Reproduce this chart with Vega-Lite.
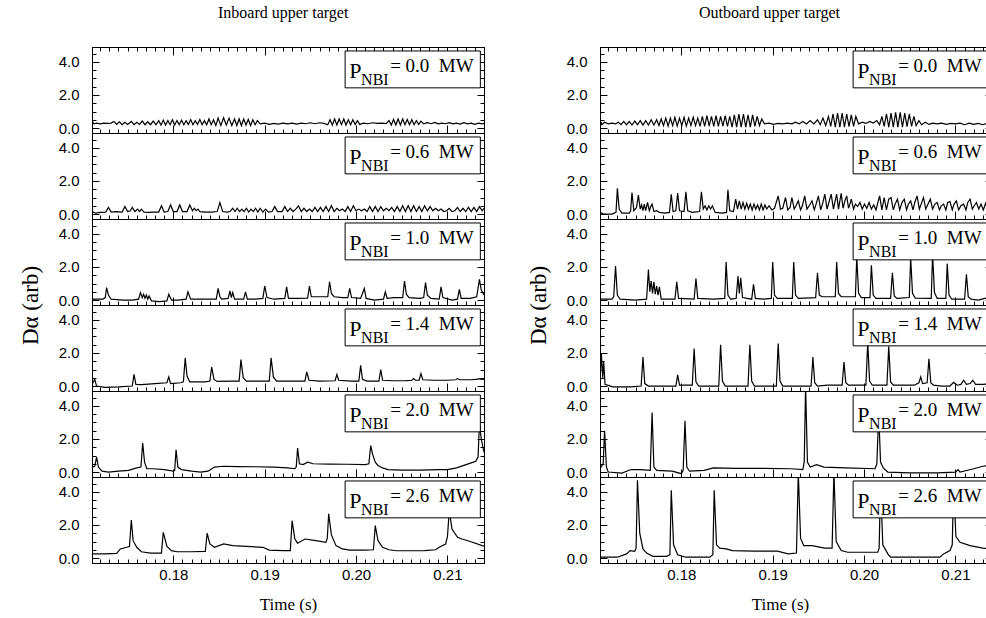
{
"$schema":"https://vega.github.io/schema/vega-lite/v6.json",
"padding":{"left":18,"top":5,"right":0,"bottom":5},
"background":"white",
"config":{
 "view":{"stroke":"black","strokeWidth":1},
 "axis":{"domainColor":"black","tickColor":"black","labelColor":"black","labelFont":"Liberation Sans","labelFontSize":15,"grid":false,"labelOverlap":false,"labelFlush":false,"domainWidth":1,"tickWidth":1},
 "title":{"font":"Liberation Serif","fontSize":16,"fontWeight":"normal","color":"black"}
},
"datasets":{
"L0":[{"t":0.1711,"v":0.45},{"t":0.1713,"v":0.25},{"t":0.1716,"v":0.3},{"t":0.172,"v":0.25},{"t":0.1724,"v":0.3},{"t":0.1728,"v":0.28},{"t":0.1732,"v":0.3},{"t":0.1735,"v":0.4},{"t":0.1738,"v":0.22},{"t":0.1741,"v":0.38},{"t":0.1744,"v":0.2},{"t":0.1747,"v":0.35},{"t":0.175,"v":0.22},{"t":0.1754,"v":0.4},{"t":0.1757,"v":0.2},{"t":0.176,"v":0.35},{"t":0.1763,"v":0.22},{"t":0.1766,"v":0.42},{"t":0.1769,"v":0.2},{"t":0.1772,"v":0.38},{"t":0.1775,"v":0.2},{"t":0.1778,"v":0.42},{"t":0.1781,"v":0.2},{"t":0.1784,"v":0.45},{"t":0.17865,"v":0.18},{"t":0.1789,"v":0.48},{"t":0.17915,"v":0.18},{"t":0.1794,"v":0.45},{"t":0.17965,"v":0.2},{"t":0.1799,"v":0.5},{"t":0.18015,"v":0.18},{"t":0.1804,"v":0.45},{"t":0.18065,"v":0.2},{"t":0.1809,"v":0.48},{"t":0.18115,"v":0.2},{"t":0.1814,"v":0.45},{"t":0.18165,"v":0.22},{"t":0.1819,"v":0.5},{"t":0.18215,"v":0.2},{"t":0.1824,"v":0.45},{"t":0.18265,"v":0.22},{"t":0.1829,"v":0.52},{"t":0.18315,"v":0.2},{"t":0.1834,"v":0.45},{"t":0.18365,"v":0.2},{"t":0.1839,"v":0.55},{"t":0.18415,"v":0.2},{"t":0.1844,"v":0.5},{"t":0.18465,"v":0.15},{"t":0.1849,"v":0.6},{"t":0.1852,"v":0.15},{"t":0.1855,"v":0.62},{"t":0.1858,"v":0.18},{"t":0.1861,"v":0.6},{"t":0.1864,"v":0.15},{"t":0.1867,"v":0.55},{"t":0.18695,"v":0.15},{"t":0.1872,"v":0.55},{"t":0.18745,"v":0.15},{"t":0.1877,"v":0.55},{"t":0.18795,"v":0.18},{"t":0.1882,"v":0.52},{"t":0.18845,"v":0.15},{"t":0.1887,"v":0.5},{"t":0.18895,"v":0.2},{"t":0.1892,"v":0.45},{"t":0.1895,"v":0.25},{"t":0.19,"v":0.3},{"t":0.1905,"v":0.22},{"t":0.191,"v":0.28},{"t":0.1915,"v":0.24},{"t":0.192,"v":0.3},{"t":0.1925,"v":0.25},{"t":0.193,"v":0.3},{"t":0.1935,"v":0.24},{"t":0.194,"v":0.3},{"t":0.1945,"v":0.26},{"t":0.195,"v":0.32},{"t":0.1955,"v":0.26},{"t":0.196,"v":0.32},{"t":0.1965,"v":0.28},{"t":0.1969,"v":0.2},{"t":0.19715,"v":0.5},{"t":0.1974,"v":0.18},{"t":0.19765,"v":0.55},{"t":0.1979,"v":0.18},{"t":0.19815,"v":0.55},{"t":0.1984,"v":0.2},{"t":0.19865,"v":0.55},{"t":0.1989,"v":0.18},{"t":0.19915,"v":0.5},{"t":0.1994,"v":0.2},{"t":0.19965,"v":0.5},{"t":0.1999,"v":0.22},{"t":0.20015,"v":0.45},{"t":0.2004,"v":0.22},{"t":0.2008,"v":0.3},{"t":0.2013,"v":0.26},{"t":0.2018,"v":0.32},{"t":0.2023,"v":0.28},{"t":0.2028,"v":0.3},{"t":0.2033,"v":0.27},{"t":0.2036,"v":0.45},{"t":0.20385,"v":0.18},{"t":0.2041,"v":0.52},{"t":0.20435,"v":0.18},{"t":0.2046,"v":0.55},{"t":0.20485,"v":0.18},{"t":0.2051,"v":0.55},{"t":0.20535,"v":0.2},{"t":0.2056,"v":0.52},{"t":0.20585,"v":0.2},{"t":0.2061,"v":0.5},{"t":0.20635,"v":0.2},{"t":0.2066,"v":0.45},{"t":0.20685,"v":0.22},{"t":0.2071,"v":0.42},{"t":0.2074,"v":0.25},{"t":0.2078,"v":0.32},{"t":0.2082,"v":0.26},{"t":0.2086,"v":0.34},{"t":0.209,"v":0.25},{"t":0.2094,"v":0.3},{"t":0.2098,"v":0.26},{"t":0.2102,"v":0.33},{"t":0.2106,"v":0.25},{"t":0.211,"v":0.3},{"t":0.2114,"v":0.24},{"t":0.2118,"v":0.32},{"t":0.2122,"v":0.25},{"t":0.2126,"v":0.3},{"t":0.213,"v":0.22},{"t":0.2134,"v":0.3},{"t":0.2138,"v":0.25},{"t":0.214,"v":0.28}],
"L06":[{"t":0.1711,"v":0.15},{"t":0.1715,"v":0.05},{"t":0.172,"v":0.1},{"t":0.1726,"v":0.12},{"t":0.1729,"v":0.4},{"t":0.1732,"v":0.12},{"t":0.1738,"v":0.15},{"t":0.1744,"v":0.12},{"t":0.1747,"v":0.45},{"t":0.175,"v":0.15},{"t":0.1753,"v":0.2},{"t":0.1755,"v":0.4},{"t":0.1758,"v":0.15},{"t":0.1761,"v":0.3},{"t":0.1763,"v":0.15},{"t":0.1765,"v":0.3},{"t":0.1768,"v":0.12},{"t":0.1773,"v":0.1},{"t":0.1778,"v":0.12},{"t":0.1784,"v":0.12},{"t":0.1787,"v":0.5},{"t":0.179,"v":0.12},{"t":0.1794,"v":0.15},{"t":0.1797,"v":0.55},{"t":0.18,"v":0.15},{"t":0.1804,"v":0.15},{"t":0.1807,"v":0.55},{"t":0.181,"v":0.15},{"t":0.1815,"v":0.15},{"t":0.1818,"v":0.55},{"t":0.1821,"v":0.2},{"t":0.1823,"v":0.35},{"t":0.1825,"v":0.2},{"t":0.1827,"v":0.3},{"t":0.1829,"v":0.15},{"t":0.1835,"v":0.12},{"t":0.1842,"v":0.12},{"t":0.1848,"v":0.15},{"t":0.1851,"v":0.7},{"t":0.1854,"v":0.15},{"t":0.1859,"v":0.12},{"t":0.1862,"v":0.15},{"t":0.1865,"v":0.35},{"t":0.18675,"v":0.15},{"t":0.187,"v":0.35},{"t":0.18725,"v":0.15},{"t":0.1875,"v":0.3},{"t":0.18775,"v":0.15},{"t":0.188,"v":0.35},{"t":0.18825,"v":0.12},{"t":0.1885,"v":0.3},{"t":0.18875,"v":0.15},{"t":0.189,"v":0.35},{"t":0.18925,"v":0.12},{"t":0.1895,"v":0.35},{"t":0.1898,"v":0.12},{"t":0.1901,"v":0.3},{"t":0.1904,"v":0.12},{"t":0.1908,"v":0.15},{"t":0.1911,"v":0.45},{"t":0.1914,"v":0.15},{"t":0.1919,"v":0.15},{"t":0.1922,"v":0.45},{"t":0.1925,"v":0.15},{"t":0.1928,"v":0.35},{"t":0.1931,"v":0.15},{"t":0.1934,"v":0.3},{"t":0.1937,"v":0.5},{"t":0.194,"v":0.15},{"t":0.1943,"v":0.35},{"t":0.1946,"v":0.15},{"t":0.1949,"v":0.3},{"t":0.1952,"v":0.15},{"t":0.1955,"v":0.4},{"t":0.1958,"v":0.15},{"t":0.1961,"v":0.4},{"t":0.1964,"v":0.15},{"t":0.1967,"v":0.45},{"t":0.197,"v":0.15},{"t":0.1973,"v":0.5},{"t":0.1976,"v":0.15},{"t":0.1979,"v":0.35},{"t":0.1982,"v":0.2},{"t":0.1985,"v":0.3},{"t":0.1988,"v":0.15},{"t":0.1991,"v":0.45},{"t":0.1994,"v":0.15},{"t":0.1997,"v":0.5},{"t":0.2,"v":0.2},{"t":0.2003,"v":0.3},{"t":0.2006,"v":0.2},{"t":0.2009,"v":0.3},{"t":0.2012,"v":0.15},{"t":0.2015,"v":0.45},{"t":0.2018,"v":0.15},{"t":0.2021,"v":0.45},{"t":0.2024,"v":0.15},{"t":0.2027,"v":0.45},{"t":0.203,"v":0.2},{"t":0.2033,"v":0.35},{"t":0.2036,"v":0.2},{"t":0.2039,"v":0.4},{"t":0.2042,"v":0.15},{"t":0.2045,"v":0.45},{"t":0.2048,"v":0.15},{"t":0.2051,"v":0.5},{"t":0.2054,"v":0.15},{"t":0.2057,"v":0.5},{"t":0.206,"v":0.15},{"t":0.2063,"v":0.5},{"t":0.2066,"v":0.15},{"t":0.2069,"v":0.45},{"t":0.2072,"v":0.15},{"t":0.2075,"v":0.5},{"t":0.2078,"v":0.2},{"t":0.2081,"v":0.45},{"t":0.2084,"v":0.2},{"t":0.2087,"v":0.35},{"t":0.209,"v":0.2},{"t":0.2093,"v":0.3},{"t":0.2096,"v":0.15},{"t":0.2099,"v":0.2},{"t":0.2102,"v":0.35},{"t":0.2105,"v":0.15},{"t":0.2108,"v":0.2},{"t":0.2111,"v":0.4},{"t":0.2114,"v":0.15},{"t":0.2117,"v":0.35},{"t":0.212,"v":0.15},{"t":0.2123,"v":0.4},{"t":0.2126,"v":0.15},{"t":0.2129,"v":0.4},{"t":0.2132,"v":0.15},{"t":0.2135,"v":0.45},{"t":0.2138,"v":0.2},{"t":0.214,"v":0.35}],
"L10":[{"t":0.1711,"v":0.05},{"t":0.1723,"v":0.05},{"t":0.17255,"v":0.15},{"t":0.1727,"v":0.75},{"t":0.1729,"v":0.3},{"t":0.1732,"v":0.05},{"t":0.1745,"v":0.0},{"t":0.1755,"v":0.0},{"t":0.1762,"v":0.05},{"t":0.1764,"v":0.45},{"t":0.1766,"v":0.15},{"t":0.17675,"v":0.35},{"t":0.1769,"v":0.1},{"t":0.17705,"v":0.3},{"t":0.1772,"v":0.05},{"t":0.17735,"v":0.25},{"t":0.1776,"v":-0.05},{"t":0.1785,"v":-0.1},{"t":0.1793,"v":-0.05},{"t":0.1795,"v":0.35},{"t":0.1798,"v":0.0},{"t":0.1805,"v":0.0},{"t":0.1814,"v":0.05},{"t":0.1816,"v":0.5},{"t":0.1819,"v":0.05},{"t":0.183,"v":0.05},{"t":0.1847,"v":0.05},{"t":0.1849,"v":0.7},{"t":0.1851,"v":0.2},{"t":0.1853,"v":0.05},{"t":0.186,"v":0.1},{"t":0.1862,"v":0.55},{"t":0.18635,"v":0.15},{"t":0.1865,"v":0.45},{"t":0.1867,"v":0.05},{"t":0.1877,"v":0.05},{"t":0.1879,"v":0.5},{"t":0.1881,"v":0.05},{"t":0.189,"v":0.05},{"t":0.1898,"v":0.1},{"t":0.19,"v":0.85},{"t":0.19025,"v":0.15},{"t":0.191,"v":0.05},{"t":0.1922,"v":0.1},{"t":0.1924,"v":0.8},{"t":0.1926,"v":0.1},{"t":0.1935,"v":0.1},{"t":0.1947,"v":0.12},{"t":0.1949,"v":0.85},{"t":0.1951,"v":0.2},{"t":0.1955,"v":0.2},{"t":0.1969,"v":0.2},{"t":0.1971,"v":1.1},{"t":0.1973,"v":0.4},{"t":0.1976,"v":0.2},{"t":0.1985,"v":0.15},{"t":0.1991,"v":0.15},{"t":0.1993,"v":0.7},{"t":0.1995,"v":0.15},{"t":0.2005,"v":0.1},{"t":0.2009,"v":0.7},{"t":0.2011,"v":0.1},{"t":0.202,"v":0.0},{"t":0.203,"v":0.05},{"t":0.2032,"v":0.5},{"t":0.2034,"v":0.1},{"t":0.2042,"v":0.15},{"t":0.2051,"v":0.15},{"t":0.2053,"v":1.15},{"t":0.2055,"v":0.35},{"t":0.2058,"v":0.15},{"t":0.207,"v":0.1},{"t":0.2074,"v":0.15},{"t":0.2076,"v":1.05},{"t":0.2078,"v":0.3},{"t":0.2082,"v":0.1},{"t":0.2091,"v":0.05},{"t":0.2093,"v":0.8},{"t":0.2095,"v":0.15},{"t":0.2105,"v":0.0},{"t":0.2111,"v":0.05},{"t":0.2113,"v":0.65},{"t":0.2115,"v":0.1},{"t":0.2125,"v":0.1},{"t":0.2132,"v":0.2},{"t":0.2135,"v":1.25},{"t":0.2137,"v":0.6},{"t":0.214,"v":0.3}],
"L14":[{"t":0.1711,"v":0.1},{"t":0.1714,"v":0.4},{"t":0.1716,"v":0.0},{"t":0.1725,"v":-0.08},{"t":0.174,"v":-0.05},{"t":0.1755,"v":0.0},{"t":0.1757,"v":0.7},{"t":0.1759,"v":0.1},{"t":0.1765,"v":0.08},{"t":0.178,"v":0.15},{"t":0.1793,"v":0.2},{"t":0.1795,"v":0.55},{"t":0.1797,"v":0.15},{"t":0.1808,"v":0.2},{"t":0.1811,"v":0.25},{"t":0.1813,"v":1.7},{"t":0.1815,"v":0.6},{"t":0.1818,"v":0.25},{"t":0.1835,"v":0.25},{"t":0.184,"v":0.3},{"t":0.1842,"v":1.15},{"t":0.18445,"v":0.4},{"t":0.1848,"v":0.28},{"t":0.1865,"v":0.3},{"t":0.1872,"v":0.3},{"t":0.1874,"v":1.6},{"t":0.18765,"v":0.5},{"t":0.188,"v":0.3},{"t":0.19,"v":0.3},{"t":0.1905,"v":0.3},{"t":0.1907,"v":1.7},{"t":0.19095,"v":0.55},{"t":0.1913,"v":0.3},{"t":0.193,"v":0.3},{"t":0.1944,"v":0.3},{"t":0.1946,"v":0.85},{"t":0.19485,"v":0.35},{"t":0.196,"v":0.3},{"t":0.1977,"v":0.32},{"t":0.1979,"v":0.7},{"t":0.1981,"v":0.35},{"t":0.1995,"v":0.3},{"t":0.2003,"v":0.3},{"t":0.2005,"v":1.25},{"t":0.2007,"v":0.4},{"t":0.2012,"v":0.3},{"t":0.2025,"v":0.3},{"t":0.2027,"v":1.0},{"t":0.2029,"v":0.35},{"t":0.204,"v":0.32},{"t":0.2055,"v":0.33},{"t":0.2061,"v":0.35},{"t":0.2063,"v":0.45},{"t":0.2065,"v":0.35},{"t":0.2069,"v":0.35},{"t":0.2071,"v":0.75},{"t":0.2073,"v":0.38},{"t":0.2085,"v":0.35},{"t":0.21,"v":0.35},{"t":0.2109,"v":0.38},{"t":0.2111,"v":0.45},{"t":0.2113,"v":0.38},{"t":0.2125,"v":0.38},{"t":0.2132,"v":0.4},{"t":0.2134,"v":0.45},{"t":0.2137,"v":0.4},{"t":0.214,"v":0.42}],
"L20":[{"t":0.1711,"v":0.3},{"t":0.1714,"v":0.35},{"t":0.1716,"v":0.9},{"t":0.1718,"v":0.3},{"t":0.1722,"v":0.05},{"t":0.1729,"v":0.0},{"t":0.174,"v":0.05},{"t":0.1751,"v":0.1},{"t":0.176,"v":0.25},{"t":0.17645,"v":0.3},{"t":0.17665,"v":1.75},{"t":0.17685,"v":0.6},{"t":0.1771,"v":0.2},{"t":0.1778,"v":0.2},{"t":0.179,"v":0.15},{"t":0.18,"v":0.05},{"t":0.18015,"v":0.1},{"t":0.1803,"v":1.35},{"t":0.1805,"v":0.3},{"t":0.1809,"v":0.15},{"t":0.182,"v":0.05},{"t":0.183,"v":0.0},{"t":0.1838,"v":0.05},{"t":0.1845,"v":0.3},{"t":0.1855,"v":0.35},{"t":0.187,"v":0.33},{"t":0.189,"v":0.32},{"t":0.191,"v":0.3},{"t":0.1925,"v":0.25},{"t":0.1933,"v":0.2},{"t":0.19345,"v":0.3},{"t":0.1936,"v":1.45},{"t":0.1938,"v":0.5},{"t":0.1942,"v":0.45},{"t":0.1947,"v":0.6},{"t":0.1953,"v":0.5},{"t":0.197,"v":0.48},{"t":0.199,"v":0.47},{"t":0.201,"v":0.45},{"t":0.2014,"v":0.5},{"t":0.2016,"v":1.6},{"t":0.2018,"v":1.1},{"t":0.2021,"v":0.6},{"t":0.2024,"v":0.4},{"t":0.2029,"v":0.25},{"t":0.2035,"v":0.15},{"t":0.205,"v":0.12},{"t":0.207,"v":0.12},{"t":0.209,"v":0.15},{"t":0.21,"v":0.15},{"t":0.211,"v":0.25},{"t":0.2118,"v":0.4},{"t":0.2126,"v":0.55},{"t":0.2131,"v":0.65},{"t":0.21335,"v":0.9},{"t":0.2135,"v":2.9},{"t":0.2137,"v":2.0},{"t":0.214,"v":1.2}],
"L26":[{"t":0.1711,"v":0.25},{"t":0.1725,"v":0.25},{"t":0.1738,"v":0.28},{"t":0.1742,"v":0.55},{"t":0.1749,"v":0.65},{"t":0.1752,"v":0.7},{"t":0.1754,"v":2.3},{"t":0.1756,"v":1.05},{"t":0.176,"v":0.65},{"t":0.1765,"v":0.38},{"t":0.1775,"v":0.3},{"t":0.1787,"v":0.3},{"t":0.1789,"v":1.55},{"t":0.1793,"v":0.7},{"t":0.1798,"v":0.45},{"t":0.1804,"v":0.38},{"t":0.182,"v":0.38},{"t":0.1835,"v":0.4},{"t":0.1837,"v":1.5},{"t":0.184,"v":0.85},{"t":0.1845,"v":0.65},{"t":0.1855,"v":0.85},{"t":0.1865,"v":0.75},{"t":0.188,"v":0.7},{"t":0.1898,"v":0.65},{"t":0.1905,"v":0.48},{"t":0.192,"v":0.45},{"t":0.1928,"v":0.45},{"t":0.193,"v":2.26},{"t":0.1933,"v":1.15},{"t":0.1936,"v":0.9},{"t":0.1944,"v":1.15},{"t":0.1956,"v":1.05},{"t":0.1967,"v":0.95},{"t":0.19685,"v":1.2},{"t":0.197,"v":2.67},{"t":0.1973,"v":1.4},{"t":0.1978,"v":0.75},{"t":0.1985,"v":0.55},{"t":0.1993,"v":0.48},{"t":0.201,"v":0.48},{"t":0.2019,"v":0.5},{"t":0.2021,"v":1.96},{"t":0.2024,"v":1.05},{"t":0.2029,"v":0.65},{"t":0.2036,"v":0.5},{"t":0.2044,"v":0.44},{"t":0.206,"v":0.44},{"t":0.2075,"v":0.45},{"t":0.2087,"v":0.5},{"t":0.2091,"v":0.65},{"t":0.2098,"v":0.85},{"t":0.21,"v":1.3},{"t":0.2102,"v":2.87},{"t":0.2105,"v":1.75},{"t":0.2111,"v":1.25},{"t":0.2116,"v":1.15},{"t":0.2125,"v":1.0},{"t":0.2138,"v":0.75},{"t":0.214,"v":0.72}],
"R0":[{"t":0.1711,"v":0.5},{"t":0.1713,"v":0.2},{"t":0.1716,"v":0.35},{"t":0.172,"v":0.25},{"t":0.1724,"v":0.3},{"t":0.1728,"v":0.25},{"t":0.1731,"v":0.35},{"t":0.1734,"v":0.2},{"t":0.1737,"v":0.4},{"t":0.174,"v":0.2},{"t":0.1743,"v":0.4},{"t":0.1746,"v":0.18},{"t":0.1749,"v":0.42},{"t":0.1752,"v":0.2},{"t":0.1755,"v":0.45},{"t":0.1758,"v":0.18},{"t":0.1761,"v":0.45},{"t":0.1764,"v":0.18},{"t":0.1767,"v":0.5},{"t":0.177,"v":0.18},{"t":0.1773,"v":0.5},{"t":0.17755,"v":0.15},{"t":0.1778,"v":0.55},{"t":0.17805,"v":0.15},{"t":0.1783,"v":0.6},{"t":0.17855,"v":0.12},{"t":0.1788,"v":0.6},{"t":0.17905,"v":0.15},{"t":0.1793,"v":0.65},{"t":0.17955,"v":0.12},{"t":0.1798,"v":0.6},{"t":0.18005,"v":0.15},{"t":0.1803,"v":0.65},{"t":0.18055,"v":0.12},{"t":0.1808,"v":0.6},{"t":0.18105,"v":0.15},{"t":0.1813,"v":0.65},{"t":0.18155,"v":0.15},{"t":0.1818,"v":0.6},{"t":0.18205,"v":0.1},{"t":0.1823,"v":0.7},{"t":0.18255,"v":0.1},{"t":0.1828,"v":0.75},{"t":0.18305,"v":0.12},{"t":0.1833,"v":0.7},{"t":0.18355,"v":0.1},{"t":0.1838,"v":0.75},{"t":0.18405,"v":0.1},{"t":0.1843,"v":0.7},{"t":0.18455,"v":0.12},{"t":0.1848,"v":0.75},{"t":0.18505,"v":0.1},{"t":0.1853,"v":0.7},{"t":0.18555,"v":0.05},{"t":0.1858,"v":0.8},{"t":0.18605,"v":0.05},{"t":0.1863,"v":0.85},{"t":0.18655,"v":0.05},{"t":0.1868,"v":0.85},{"t":0.18705,"v":0.05},{"t":0.1873,"v":0.8},{"t":0.18755,"v":0.05},{"t":0.1878,"v":0.8},{"t":0.18805,"v":0.1},{"t":0.1883,"v":0.7},{"t":0.18855,"v":0.15},{"t":0.1888,"v":0.55},{"t":0.1891,"v":0.25},{"t":0.1896,"v":0.3},{"t":0.1901,"v":0.22},{"t":0.1906,"v":0.28},{"t":0.1911,"v":0.25},{"t":0.1916,"v":0.3},{"t":0.1921,"v":0.25},{"t":0.1925,"v":0.35},{"t":0.1929,"v":0.25},{"t":0.1933,"v":0.4},{"t":0.1937,"v":0.25},{"t":0.1941,"v":0.45},{"t":0.1945,"v":0.25},{"t":0.1949,"v":0.5},{"t":0.1952,"v":0.2},{"t":0.1955,"v":0.6},{"t":0.1958,"v":0.15},{"t":0.1961,"v":0.7},{"t":0.19635,"v":0.1},{"t":0.1966,"v":0.85},{"t":0.19685,"v":0.05},{"t":0.1971,"v":0.9},{"t":0.19735,"v":0.05},{"t":0.1976,"v":0.9},{"t":0.19785,"v":0.05},{"t":0.1981,"v":0.85},{"t":0.19835,"v":0.08},{"t":0.1986,"v":0.8},{"t":0.19885,"v":0.1},{"t":0.1991,"v":0.7},{"t":0.1994,"v":0.25},{"t":0.1998,"v":0.35},{"t":0.2002,"v":0.28},{"t":0.2006,"v":0.4},{"t":0.201,"v":0.3},{"t":0.2014,"v":0.45},{"t":0.2017,"v":0.2},{"t":0.20195,"v":0.7},{"t":0.2022,"v":0.1},{"t":0.20245,"v":0.85},{"t":0.2027,"v":0.05},{"t":0.20295,"v":0.9},{"t":0.2032,"v":0.05},{"t":0.20345,"v":0.95},{"t":0.2037,"v":0.05},{"t":0.20395,"v":0.95},{"t":0.2042,"v":0.05},{"t":0.20445,"v":0.9},{"t":0.2047,"v":0.08},{"t":0.20495,"v":0.85},{"t":0.2052,"v":0.1},{"t":0.20545,"v":0.7},{"t":0.2057,"v":0.15},{"t":0.206,"v":0.45},{"t":0.2063,"v":0.2},{"t":0.2067,"v":0.35},{"t":0.2071,"v":0.22},{"t":0.2075,"v":0.3},{"t":0.208,"v":0.25},{"t":0.2085,"v":0.3},{"t":0.209,"v":0.22},{"t":0.2095,"v":0.28},{"t":0.21,"v":0.25},{"t":0.2105,"v":0.3},{"t":0.211,"v":0.2},{"t":0.2115,"v":0.3},{"t":0.212,"v":0.22},{"t":0.2125,"v":0.28},{"t":0.213,"v":0.2},{"t":0.2135,"v":0.3},{"t":0.214,"v":0.25}],
"R06":[{"t":0.1711,"v":0.1},{"t":0.1715,"v":0.0},{"t":0.1724,"v":0.0},{"t":0.17285,"v":0.1},{"t":0.173,"v":1.55},{"t":0.1732,"v":0.3},{"t":0.1735,"v":0.05},{"t":0.1743,"v":0.05},{"t":0.17445,"v":0.2},{"t":0.1746,"v":1.3},{"t":0.1748,"v":0.2},{"t":0.1751,"v":0.4},{"t":0.1753,"v":1.15},{"t":0.1755,"v":0.3},{"t":0.17565,"v":0.55},{"t":0.1758,"v":0.2},{"t":0.17595,"v":0.6},{"t":0.1761,"v":0.2},{"t":0.1763,"v":0.7},{"t":0.1765,"v":0.2},{"t":0.17665,"v":0.45},{"t":0.1768,"v":0.6},{"t":0.177,"v":0.15},{"t":0.1773,"v":0.2},{"t":0.1776,"v":0.1},{"t":0.1782,"v":0.05},{"t":0.1787,"v":0.1},{"t":0.1789,"v":1.2},{"t":0.1791,"v":0.15},{"t":0.1794,"v":0.2},{"t":0.1796,"v":1.27},{"t":0.1798,"v":0.2},{"t":0.1803,"v":0.15},{"t":0.1805,"v":1.35},{"t":0.1807,"v":0.2},{"t":0.1812,"v":0.1},{"t":0.182,"v":0.15},{"t":0.1822,"v":1.35},{"t":0.1824,"v":0.3},{"t":0.1826,"v":0.5},{"t":0.1828,"v":0.25},{"t":0.183,"v":0.5},{"t":0.1832,"v":0.3},{"t":0.1834,"v":0.5},{"t":0.1837,"v":0.1},{"t":0.1845,"v":0.05},{"t":0.18495,"v":0.1},{"t":0.1851,"v":1.47},{"t":0.1853,"v":0.2},{"t":0.1857,"v":0.15},{"t":0.18595,"v":0.9},{"t":0.18615,"v":0.3},{"t":0.18635,"v":0.8},{"t":0.18655,"v":0.3},{"t":0.18675,"v":0.7},{"t":0.18695,"v":0.3},{"t":0.18715,"v":0.65},{"t":0.18735,"v":0.3},{"t":0.18755,"v":0.6},{"t":0.18775,"v":0.25},{"t":0.18795,"v":0.6},{"t":0.18815,"v":0.3},{"t":0.18835,"v":0.55},{"t":0.18855,"v":0.25},{"t":0.18875,"v":0.6},{"t":0.18895,"v":0.25},{"t":0.18915,"v":0.55},{"t":0.18935,"v":0.3},{"t":0.1896,"v":0.5},{"t":0.1899,"v":0.25},{"t":0.1902,"v":0.35},{"t":0.1906,"v":1.1},{"t":0.19085,"v":0.3},{"t":0.1911,"v":0.35},{"t":0.1914,"v":1.0},{"t":0.19165,"v":0.25},{"t":0.1919,"v":0.4},{"t":0.1921,"v":1.0},{"t":0.19235,"v":0.3},{"t":0.19255,"v":0.5},{"t":0.1928,"v":0.8},{"t":0.19305,"v":0.25},{"t":0.19325,"v":0.5},{"t":0.1935,"v":1.1},{"t":0.19375,"v":0.3},{"t":0.194,"v":0.5},{"t":0.1943,"v":0.8},{"t":0.19455,"v":0.25},{"t":0.19475,"v":0.6},{"t":0.195,"v":1.1},{"t":0.19525,"v":0.25},{"t":0.19545,"v":0.6},{"t":0.1957,"v":1.2},{"t":0.19595,"v":0.3},{"t":0.19615,"v":0.7},{"t":0.1964,"v":1.2},{"t":0.19665,"v":0.3},{"t":0.1968,"v":0.7},{"t":0.197,"v":1.2},{"t":0.1972,"v":0.3},{"t":0.19735,"v":0.8},{"t":0.1975,"v":1.25},{"t":0.1977,"v":0.35},{"t":0.1979,"v":0.8},{"t":0.1981,"v":1.1},{"t":0.1983,"v":0.35},{"t":0.19845,"v":0.6},{"t":0.1986,"v":0.9},{"t":0.19885,"v":0.3},{"t":0.19905,"v":0.6},{"t":0.1993,"v":0.45},{"t":0.19955,"v":0.7},{"t":0.1998,"v":0.3},{"t":0.20005,"v":0.6},{"t":0.2003,"v":0.35},{"t":0.20055,"v":0.7},{"t":0.2008,"v":0.3},{"t":0.20105,"v":0.55},{"t":0.2013,"v":0.25},{"t":0.2017,"v":1.1},{"t":0.20195,"v":0.25},{"t":0.2022,"v":1.0},{"t":0.20245,"v":0.25},{"t":0.2027,"v":0.9},{"t":0.20295,"v":1.0},{"t":0.2032,"v":0.25},{"t":0.2034,"v":0.6},{"t":0.20365,"v":0.9},{"t":0.2039,"v":0.25},{"t":0.20415,"v":0.7},{"t":0.2044,"v":0.9},{"t":0.20465,"v":0.25},{"t":0.20485,"v":0.6},{"t":0.2051,"v":0.8},{"t":0.20535,"v":0.25},{"t":0.20555,"v":0.7},{"t":0.2058,"v":1.1},{"t":0.20605,"v":0.3},{"t":0.20625,"v":0.6},{"t":0.2065,"v":1.0},{"t":0.20675,"v":0.3},{"t":0.20695,"v":0.55},{"t":0.20725,"v":0.9},{"t":0.2075,"v":0.3},{"t":0.20775,"v":0.6},{"t":0.208,"v":0.7},{"t":0.20825,"v":0.25},{"t":0.20845,"v":0.5},{"t":0.2087,"v":0.6},{"t":0.20895,"v":0.25},{"t":0.20915,"v":0.7},{"t":0.2094,"v":0.75},{"t":0.20965,"v":0.25},{"t":0.20985,"v":0.6},{"t":0.2101,"v":0.8},{"t":0.21035,"v":0.25},{"t":0.2106,"v":0.5},{"t":0.2109,"v":0.6},{"t":0.21115,"v":0.25},{"t":0.21135,"v":0.7},{"t":0.2116,"v":0.9},{"t":0.21185,"v":0.3},{"t":0.21205,"v":0.5},{"t":0.2123,"v":0.7},{"t":0.21255,"v":0.3},{"t":0.2128,"v":0.6},{"t":0.21305,"v":0.25},{"t":0.2133,"v":0.65},{"t":0.21355,"v":0.3},{"t":0.2138,"v":0.55},{"t":0.214,"v":0.3}],
"R10":[{"t":0.1711,"v":0.05},{"t":0.1724,"v":0.05},{"t":0.1726,"v":0.2},{"t":0.1728,"v":2.05},{"t":0.173,"v":0.3},{"t":0.1733,"v":0.05},{"t":0.175,"v":0.0},{"t":0.1762,"v":0.05},{"t":0.1764,"v":1.85},{"t":0.17655,"v":0.5},{"t":0.1767,"v":1.15},{"t":0.17685,"v":0.4},{"t":0.177,"v":1.1},{"t":0.17715,"v":0.35},{"t":0.1773,"v":0.85},{"t":0.17745,"v":0.3},{"t":0.1776,"v":0.8},{"t":0.1778,"v":0.05},{"t":0.1793,"v":0.05},{"t":0.1795,"v":1.1},{"t":0.1797,"v":0.1},{"t":0.1814,"v":0.05},{"t":0.1816,"v":1.3},{"t":0.1818,"v":0.1},{"t":0.1835,"v":0.05},{"t":0.18475,"v":0.1},{"t":0.1849,"v":2.3},{"t":0.1851,"v":0.3},{"t":0.1854,"v":0.05},{"t":0.186,"v":0.1},{"t":0.1862,"v":1.45},{"t":0.18635,"v":0.4},{"t":0.1865,"v":1.35},{"t":0.1867,"v":0.15},{"t":0.1877,"v":0.05},{"t":0.1879,"v":0.95},{"t":0.1881,"v":0.1},{"t":0.189,"v":0.05},{"t":0.18985,"v":0.1},{"t":0.19,"v":2.3},{"t":0.1902,"v":0.3},{"t":0.1905,"v":0.1},{"t":0.19215,"v":0.1},{"t":0.1923,"v":2.3},{"t":0.1925,"v":0.3},{"t":0.1928,"v":0.1},{"t":0.1947,"v":0.15},{"t":0.1949,"v":1.65},{"t":0.1951,"v":0.3},{"t":0.1954,"v":0.2},{"t":0.19685,"v":0.2},{"t":0.197,"v":2.3},{"t":0.1972,"v":0.4},{"t":0.1975,"v":0.2},{"t":0.19905,"v":0.2},{"t":0.1992,"v":2.6},{"t":0.1994,"v":0.4},{"t":0.1997,"v":0.15},{"t":0.20065,"v":0.15},{"t":0.2008,"v":2.1},{"t":0.201,"v":0.3},{"t":0.2013,"v":0.1},{"t":0.2029,"v":0.1},{"t":0.2031,"v":1.65},{"t":0.2033,"v":0.25},{"t":0.2036,"v":0.1},{"t":0.20495,"v":0.15},{"t":0.2051,"v":2.55},{"t":0.2053,"v":0.4},{"t":0.2056,"v":0.12},{"t":0.20735,"v":0.1},{"t":0.2075,"v":2.8},{"t":0.2077,"v":0.45},{"t":0.208,"v":0.1},{"t":0.20895,"v":0.1},{"t":0.2091,"v":2.2},{"t":0.2093,"v":0.3},{"t":0.2096,"v":0.05},{"t":0.211,"v":0.05},{"t":0.2112,"v":1.55},{"t":0.2114,"v":0.2},{"t":0.2117,"v":0.05},{"t":0.2125,"v":0.0},{"t":0.2132,"v":0.1},{"t":0.214,"v":0.1}],
"R14":[{"t":0.1711,"v":0.3},{"t":0.17125,"v":1.95},{"t":0.1714,"v":0.5},{"t":0.1715,"v":1.5},{"t":0.17165,"v":0.1},{"t":0.1725,"v":-0.05},{"t":0.1745,"v":-0.05},{"t":0.1756,"v":0.0},{"t":0.1758,"v":1.75},{"t":0.176,"v":0.15},{"t":0.1764,"v":0.0},{"t":0.1794,"v":0.0},{"t":0.1796,"v":0.67},{"t":0.1798,"v":0.05},{"t":0.1812,"v":0.05},{"t":0.1814,"v":2.27},{"t":0.1816,"v":0.25},{"t":0.1819,"v":0.0},{"t":0.1841,"v":0.0},{"t":0.1843,"v":2.5},{"t":0.1845,"v":0.3},{"t":0.1848,"v":0.0},{"t":0.1873,"v":0.0},{"t":0.1875,"v":2.5},{"t":0.1877,"v":0.3},{"t":0.188,"v":0.0},{"t":0.1904,"v":0.0},{"t":0.1906,"v":2.57},{"t":0.1908,"v":0.3},{"t":0.1911,"v":0.0},{"t":0.1942,"v":0.0},{"t":0.1944,"v":1.75},{"t":0.1946,"v":0.2},{"t":0.1949,"v":0.0},{"t":0.196,"v":0.05},{"t":0.1976,"v":0.05},{"t":0.1978,"v":1.45},{"t":0.198,"v":0.2},{"t":0.1983,"v":0.05},{"t":0.2002,"v":0.05},{"t":0.2004,"v":2.67},{"t":0.2006,"v":0.3},{"t":0.2009,"v":0.05},{"t":0.2025,"v":0.05},{"t":0.2027,"v":2.4},{"t":0.2029,"v":0.25},{"t":0.2032,"v":0.05},{"t":0.2055,"v":0.05},{"t":0.206,"v":0.2},{"t":0.2062,"v":0.55},{"t":0.2064,"v":0.15},{"t":0.2069,"v":0.2},{"t":0.2071,"v":1.65},{"t":0.2073,"v":0.2},{"t":0.2076,"v":0.05},{"t":0.2085,"v":0.0},{"t":0.2094,"v":0.0},{"t":0.2098,"v":0.22},{"t":0.2102,"v":0.05},{"t":0.2106,"v":0.1},{"t":0.2109,"v":0.35},{"t":0.2112,"v":0.1},{"t":0.2116,"v":0.15},{"t":0.2119,"v":0.35},{"t":0.2122,"v":0.1},{"t":0.213,"v":0.1},{"t":0.214,"v":0.15}],
"R20":[{"t":0.1711,"v":0.2},{"t":0.17145,"v":0.5},{"t":0.1716,"v":2.5},{"t":0.1718,"v":0.3},{"t":0.172,"v":0.0},{"t":0.1735,"v":-0.06},{"t":0.1745,"v":0.15},{"t":0.1755,"v":0.15},{"t":0.1766,"v":0.1},{"t":0.1768,"v":3.6},{"t":0.177,"v":0.3},{"t":0.1773,"v":0.1},{"t":0.179,"v":0.05},{"t":0.18,"v":-0.1},{"t":0.1802,"v":0.1},{"t":0.1804,"v":3.1},{"t":0.1806,"v":0.3},{"t":0.1809,"v":0.05},{"t":0.1825,"v":0.1},{"t":0.1835,"v":0.25},{"t":0.186,"v":0.22},{"t":0.189,"v":0.22},{"t":0.192,"v":0.2},{"t":0.1933,"v":0.15},{"t":0.19345,"v":0.6},{"t":0.1936,"v":5.2},{"t":0.1938,"v":0.6},{"t":0.1941,"v":0.3},{"t":0.1948,"v":0.45},{"t":0.1956,"v":0.3},{"t":0.198,"v":0.25},{"t":0.2012,"v":0.2},{"t":0.2014,"v":0.5},{"t":0.2016,"v":3.6},{"t":0.2018,"v":0.6},{"t":0.2021,"v":0.25},{"t":0.2026,"v":0.0},{"t":0.205,"v":-0.05},{"t":0.208,"v":-0.05},{"t":0.21,"v":0.0},{"t":0.2103,"v":0.15},{"t":0.2105,"v":0.0},{"t":0.212,"v":0.2},{"t":0.213,"v":0.35},{"t":0.214,"v":0.4}],
"R26":[{"t":0.1711,"v":0.05},{"t":0.173,"v":0.05},{"t":0.174,"v":0.25},{"t":0.1744,"v":0.45},{"t":0.1749,"v":0.4},{"t":0.17505,"v":0.6},{"t":0.1752,"v":4.7},{"t":0.17545,"v":1.5},{"t":0.1758,"v":0.55},{"t":0.1762,"v":0.3},{"t":0.1769,"v":0.1},{"t":0.1784,"v":0.1},{"t":0.17875,"v":0.2},{"t":0.1789,"v":4.1},{"t":0.17915,"v":0.8},{"t":0.1796,"v":0.2},{"t":0.1805,"v":0.05},{"t":0.1831,"v":0.05},{"t":0.18345,"v":0.2},{"t":0.1836,"v":4.1},{"t":0.18385,"v":0.8},{"t":0.1842,"v":0.6},{"t":0.1849,"v":0.55},{"t":0.1856,"v":0.45},{"t":0.188,"v":0.42},{"t":0.1905,"v":0.42},{"t":0.1917,"v":0.25},{"t":0.1926,"v":0.3},{"t":0.1928,"v":5.2},{"t":0.19305,"v":1.2},{"t":0.1934,"v":0.75},{"t":0.1943,"v":0.75},{"t":0.1957,"v":0.6},{"t":0.1965,"v":0.6},{"t":0.1967,"v":5.2},{"t":0.19695,"v":1.0},{"t":0.1975,"v":0.45},{"t":0.1982,"v":0.35},{"t":0.2,"v":0.35},{"t":0.2015,"v":0.35},{"t":0.20165,"v":0.6},{"t":0.2018,"v":4.5},{"t":0.20205,"v":0.8},{"t":0.2026,"v":0.25},{"t":0.2029,"v":0.05},{"t":0.205,"v":0.05},{"t":0.2083,"v":0.05},{"t":0.2087,"v":0.25},{"t":0.2094,"v":0.45},{"t":0.20965,"v":0.8},{"t":0.2098,"v":4.5},{"t":0.21005,"v":1.3},{"t":0.2105,"v":0.95},{"t":0.2116,"v":0.75},{"t":0.213,"v":0.6},{"t":0.214,"v":0.55}]
},
"hconcat":[
{"title":{"text":"Inboard upper target","anchor":"start","frame":"group","offset":25,"dx":126,"fontSize":16,"font":"Liberation Serif","fontWeight":"normal"},
 "spacing":0,"bounds":"flush",
 "vconcat":[
  {"width":392,"height":86,"data":{"name":"L0"},"resolve":{"axis":{"x":"independent","y":"independent"}},"layer":[
   {"mark":{"type":"line","color":"black","strokeWidth":1.2,"clip":true},"encoding":{"x":{"field":"t","type":"quantitative","scale":{"domain":[0.1711,0.214],"nice":false,"zero":false},"axis":{"values":[0.172,0.173,0.174,0.175,0.176,0.177,0.178,0.179,0.18,0.181,0.182,0.183,0.184,0.185,0.186,0.187,0.188,0.189,0.19,0.191,0.192,0.193,0.194,0.195,0.196,0.197,0.198,0.199,0.2,0.201,0.202,0.203,0.204,0.205,0.206,0.207,0.208,0.209,0.21,0.211,0.212,0.213,0.214],"labels":false,"title":null,"tickSize":{"condition":{"test":"abs(datum.value*100-round(datum.value*100))<0.001","value":-8},"value":-4}}},"y":{"field":"v","type":"quantitative","scale":{"domain":[-0.3,4.9],"nice":false,"zero":false},"axis":{"values":[0,0.5,1,1.5,2,2.5,3,3.5,4,4.5],"labelExpr":"datum.value % 2 == 0 ? format(datum.value,'.1f') : ''","tickSize":{"condition":{"test":"datum.value % 2 == 0","value":-7},"value":-4},"labelPadding":20,"title":null}}}},
   {"mark":{"type":"line","opacity":0},"encoding":{"x":{"field":"t","type":"quantitative","axis":{"orient":"top","values":[0.172,0.173,0.174,0.175,0.176,0.177,0.178,0.179,0.18,0.181,0.182,0.183,0.184,0.185,0.186,0.187,0.188,0.189,0.19,0.191,0.192,0.193,0.194,0.195,0.196,0.197,0.198,0.199,0.2,0.201,0.202,0.203,0.204,0.205,0.206,0.207,0.208,0.209,0.21,0.211,0.212,0.213,0.214],"labels":false,"title":null,"tickSize":{"condition":{"test":"abs(datum.value*100-round(datum.value*100))<0.001","value":-8},"value":-4}}},"y":{"field":"v","type":"quantitative","axis":{"orient":"right","values":[0,0.5,1,1.5,2,2.5,3,3.5,4,4.5],"labels":false,"title":null,"tickSize":{"condition":{"test":"datum.value % 2 == 0","value":-7},"value":-4}}}}},
   {"data":{"values":[{}]},"mark":{"type":"rect","fill":"white","stroke":"black","strokeWidth":1},"encoding":{"x":{"datum":0.1988,"type":"quantitative","axis":null},"x2":{"datum":0.2136},"y":{"datum":4.66,"type":"quantitative","axis":null},"y2":{"datum":2.43}}},
   {"data":{"values":[{}]},"mark":{"type":"text","font":"Liberation Serif","fontSize":22,"align":"left","baseline":"alphabetic"},"encoding":{"x":{"datum":0.19924,"type":"quantitative","axis":null},"y":{"datum":3.03,"type":"quantitative","axis":null},"text":{"value":"P"}}},
   {"data":{"values":[{}]},"mark":{"type":"text","font":"Liberation Serif","fontSize":16,"align":"left","baseline":"alphabetic"},"encoding":{"x":{"datum":0.20055,"type":"quantitative","axis":null},"y":{"datum":2.62,"type":"quantitative","axis":null},"text":{"value":"NBI"}}},
   {"data":{"values":[{}]},"mark":{"type":"text","font":"Liberation Serif","fontSize":19,"align":"left","baseline":"alphabetic"},"encoding":{"x":{"datum":0.20373,"type":"quantitative","axis":null},"y":{"datum":3.39,"type":"quantitative","axis":null},"text":{"value":"= 0.0\u00a0 MW"}}}
  ]},
  {"width":392,"height":86,"data":{"name":"L06"},"resolve":{"axis":{"x":"independent","y":"independent"}},"layer":[
   {"mark":{"type":"line","color":"black","strokeWidth":1.2,"clip":true},"encoding":{"x":{"field":"t","type":"quantitative","scale":{"domain":[0.1711,0.214],"nice":false,"zero":false},"axis":{"values":[0.172,0.173,0.174,0.175,0.176,0.177,0.178,0.179,0.18,0.181,0.182,0.183,0.184,0.185,0.186,0.187,0.188,0.189,0.19,0.191,0.192,0.193,0.194,0.195,0.196,0.197,0.198,0.199,0.2,0.201,0.202,0.203,0.204,0.205,0.206,0.207,0.208,0.209,0.21,0.211,0.212,0.213,0.214],"labels":false,"title":null,"tickSize":{"condition":{"test":"abs(datum.value*100-round(datum.value*100))<0.001","value":-8},"value":-4}}},"y":{"field":"v","type":"quantitative","scale":{"domain":[-0.3,4.9],"nice":false,"zero":false},"axis":{"values":[0,0.5,1,1.5,2,2.5,3,3.5,4,4.5],"labelExpr":"datum.value % 2 == 0 ? format(datum.value,'.1f') : ''","tickSize":{"condition":{"test":"datum.value % 2 == 0","value":-7},"value":-4},"labelPadding":20,"title":null}}}},
   {"mark":{"type":"line","opacity":0},"encoding":{"x":{"field":"t","type":"quantitative","axis":null},"y":{"field":"v","type":"quantitative","axis":{"orient":"right","values":[0,0.5,1,1.5,2,2.5,3,3.5,4,4.5],"labels":false,"title":null,"tickSize":{"condition":{"test":"datum.value % 2 == 0","value":-7},"value":-4}}}}},
   {"data":{"values":[{}]},"mark":{"type":"rect","fill":"white","stroke":"black","strokeWidth":1},"encoding":{"x":{"datum":0.1988,"type":"quantitative","axis":null},"x2":{"datum":0.2136},"y":{"datum":4.66,"type":"quantitative","axis":null},"y2":{"datum":2.43}}},
   {"data":{"values":[{}]},"mark":{"type":"text","font":"Liberation Serif","fontSize":22,"align":"left","baseline":"alphabetic"},"encoding":{"x":{"datum":0.19924,"type":"quantitative","axis":null},"y":{"datum":3.03,"type":"quantitative","axis":null},"text":{"value":"P"}}},
   {"data":{"values":[{}]},"mark":{"type":"text","font":"Liberation Serif","fontSize":16,"align":"left","baseline":"alphabetic"},"encoding":{"x":{"datum":0.20055,"type":"quantitative","axis":null},"y":{"datum":2.62,"type":"quantitative","axis":null},"text":{"value":"NBI"}}},
   {"data":{"values":[{}]},"mark":{"type":"text","font":"Liberation Serif","fontSize":19,"align":"left","baseline":"alphabetic"},"encoding":{"x":{"datum":0.20373,"type":"quantitative","axis":null},"y":{"datum":3.39,"type":"quantitative","axis":null},"text":{"value":"= 0.6\u00a0 MW"}}}
  ]},
  {"width":392,"height":86,"data":{"name":"L10"},"resolve":{"axis":{"x":"independent","y":"independent"}},"layer":[
   {"mark":{"type":"line","color":"black","strokeWidth":1.2,"clip":true},"encoding":{"x":{"field":"t","type":"quantitative","scale":{"domain":[0.1711,0.214],"nice":false,"zero":false},"axis":{"values":[0.172,0.173,0.174,0.175,0.176,0.177,0.178,0.179,0.18,0.181,0.182,0.183,0.184,0.185,0.186,0.187,0.188,0.189,0.19,0.191,0.192,0.193,0.194,0.195,0.196,0.197,0.198,0.199,0.2,0.201,0.202,0.203,0.204,0.205,0.206,0.207,0.208,0.209,0.21,0.211,0.212,0.213,0.214],"labels":false,"title":null,"tickSize":{"condition":{"test":"abs(datum.value*100-round(datum.value*100))<0.001","value":-8},"value":-4}}},"y":{"field":"v","type":"quantitative","scale":{"domain":[-0.3,4.9],"nice":false,"zero":false},"axis":{"values":[0,0.5,1,1.5,2,2.5,3,3.5,4,4.5],"labelExpr":"datum.value % 2 == 0 ? format(datum.value,'.1f') : ''","tickSize":{"condition":{"test":"datum.value % 2 == 0","value":-7},"value":-4},"labelPadding":20,"title":"Dα (arb)","titleFont":"Liberation Serif","titleFontSize":23,"titleFontWeight":"normal","titleY":86,"titlePadding":16}}}},
   {"mark":{"type":"line","opacity":0},"encoding":{"x":{"field":"t","type":"quantitative","axis":null},"y":{"field":"v","type":"quantitative","axis":{"orient":"right","values":[0,0.5,1,1.5,2,2.5,3,3.5,4,4.5],"labels":false,"title":null,"tickSize":{"condition":{"test":"datum.value % 2 == 0","value":-7},"value":-4}}}}},
   {"data":{"values":[{}]},"mark":{"type":"rect","fill":"white","stroke":"black","strokeWidth":1},"encoding":{"x":{"datum":0.1988,"type":"quantitative","axis":null},"x2":{"datum":0.2136},"y":{"datum":4.66,"type":"quantitative","axis":null},"y2":{"datum":2.43}}},
   {"data":{"values":[{}]},"mark":{"type":"text","font":"Liberation Serif","fontSize":22,"align":"left","baseline":"alphabetic"},"encoding":{"x":{"datum":0.19924,"type":"quantitative","axis":null},"y":{"datum":3.03,"type":"quantitative","axis":null},"text":{"value":"P"}}},
   {"data":{"values":[{}]},"mark":{"type":"text","font":"Liberation Serif","fontSize":16,"align":"left","baseline":"alphabetic"},"encoding":{"x":{"datum":0.20055,"type":"quantitative","axis":null},"y":{"datum":2.62,"type":"quantitative","axis":null},"text":{"value":"NBI"}}},
   {"data":{"values":[{}]},"mark":{"type":"text","font":"Liberation Serif","fontSize":19,"align":"left","baseline":"alphabetic"},"encoding":{"x":{"datum":0.20373,"type":"quantitative","axis":null},"y":{"datum":3.39,"type":"quantitative","axis":null},"text":{"value":"= 1.0\u00a0 MW"}}}
  ]},
  {"width":392,"height":86,"data":{"name":"L14"},"resolve":{"axis":{"x":"independent","y":"independent"}},"layer":[
   {"mark":{"type":"line","color":"black","strokeWidth":1.2,"clip":true},"encoding":{"x":{"field":"t","type":"quantitative","scale":{"domain":[0.1711,0.214],"nice":false,"zero":false},"axis":{"values":[0.172,0.173,0.174,0.175,0.176,0.177,0.178,0.179,0.18,0.181,0.182,0.183,0.184,0.185,0.186,0.187,0.188,0.189,0.19,0.191,0.192,0.193,0.194,0.195,0.196,0.197,0.198,0.199,0.2,0.201,0.202,0.203,0.204,0.205,0.206,0.207,0.208,0.209,0.21,0.211,0.212,0.213,0.214],"labels":false,"title":null,"tickSize":{"condition":{"test":"abs(datum.value*100-round(datum.value*100))<0.001","value":-8},"value":-4}}},"y":{"field":"v","type":"quantitative","scale":{"domain":[-0.3,4.9],"nice":false,"zero":false},"axis":{"values":[0,0.5,1,1.5,2,2.5,3,3.5,4,4.5],"labelExpr":"datum.value % 2 == 0 ? format(datum.value,'.1f') : ''","tickSize":{"condition":{"test":"datum.value % 2 == 0","value":-7},"value":-4},"labelPadding":20,"title":null}}}},
   {"mark":{"type":"line","opacity":0},"encoding":{"x":{"field":"t","type":"quantitative","axis":null},"y":{"field":"v","type":"quantitative","axis":{"orient":"right","values":[0,0.5,1,1.5,2,2.5,3,3.5,4,4.5],"labels":false,"title":null,"tickSize":{"condition":{"test":"datum.value % 2 == 0","value":-7},"value":-4}}}}},
   {"data":{"values":[{}]},"mark":{"type":"rect","fill":"white","stroke":"black","strokeWidth":1},"encoding":{"x":{"datum":0.1988,"type":"quantitative","axis":null},"x2":{"datum":0.2136},"y":{"datum":4.66,"type":"quantitative","axis":null},"y2":{"datum":2.43}}},
   {"data":{"values":[{}]},"mark":{"type":"text","font":"Liberation Serif","fontSize":22,"align":"left","baseline":"alphabetic"},"encoding":{"x":{"datum":0.19924,"type":"quantitative","axis":null},"y":{"datum":3.03,"type":"quantitative","axis":null},"text":{"value":"P"}}},
   {"data":{"values":[{}]},"mark":{"type":"text","font":"Liberation Serif","fontSize":16,"align":"left","baseline":"alphabetic"},"encoding":{"x":{"datum":0.20055,"type":"quantitative","axis":null},"y":{"datum":2.62,"type":"quantitative","axis":null},"text":{"value":"NBI"}}},
   {"data":{"values":[{}]},"mark":{"type":"text","font":"Liberation Serif","fontSize":19,"align":"left","baseline":"alphabetic"},"encoding":{"x":{"datum":0.20373,"type":"quantitative","axis":null},"y":{"datum":3.39,"type":"quantitative","axis":null},"text":{"value":"= 1.4\u00a0 MW"}}}
  ]},
  {"width":392,"height":86,"data":{"name":"L20"},"resolve":{"axis":{"x":"independent","y":"independent"}},"layer":[
   {"mark":{"type":"line","color":"black","strokeWidth":1.2,"clip":true},"encoding":{"x":{"field":"t","type":"quantitative","scale":{"domain":[0.1711,0.214],"nice":false,"zero":false},"axis":{"values":[0.172,0.173,0.174,0.175,0.176,0.177,0.178,0.179,0.18,0.181,0.182,0.183,0.184,0.185,0.186,0.187,0.188,0.189,0.19,0.191,0.192,0.193,0.194,0.195,0.196,0.197,0.198,0.199,0.2,0.201,0.202,0.203,0.204,0.205,0.206,0.207,0.208,0.209,0.21,0.211,0.212,0.213,0.214],"labels":false,"title":null,"tickSize":{"condition":{"test":"abs(datum.value*100-round(datum.value*100))<0.001","value":-8},"value":-4}}},"y":{"field":"v","type":"quantitative","scale":{"domain":[-0.3,4.9],"nice":false,"zero":false},"axis":{"values":[0,0.5,1,1.5,2,2.5,3,3.5,4,4.5],"labelExpr":"datum.value % 2 == 0 ? format(datum.value,'.1f') : ''","tickSize":{"condition":{"test":"datum.value % 2 == 0","value":-7},"value":-4},"labelPadding":20,"title":null}}}},
   {"mark":{"type":"line","opacity":0},"encoding":{"x":{"field":"t","type":"quantitative","axis":null},"y":{"field":"v","type":"quantitative","axis":{"orient":"right","values":[0,0.5,1,1.5,2,2.5,3,3.5,4,4.5],"labels":false,"title":null,"tickSize":{"condition":{"test":"datum.value % 2 == 0","value":-7},"value":-4}}}}},
   {"data":{"values":[{}]},"mark":{"type":"rect","fill":"white","stroke":"black","strokeWidth":1},"encoding":{"x":{"datum":0.1988,"type":"quantitative","axis":null},"x2":{"datum":0.2136},"y":{"datum":4.66,"type":"quantitative","axis":null},"y2":{"datum":2.43}}},
   {"data":{"values":[{}]},"mark":{"type":"text","font":"Liberation Serif","fontSize":22,"align":"left","baseline":"alphabetic"},"encoding":{"x":{"datum":0.19924,"type":"quantitative","axis":null},"y":{"datum":3.03,"type":"quantitative","axis":null},"text":{"value":"P"}}},
   {"data":{"values":[{}]},"mark":{"type":"text","font":"Liberation Serif","fontSize":16,"align":"left","baseline":"alphabetic"},"encoding":{"x":{"datum":0.20055,"type":"quantitative","axis":null},"y":{"datum":2.62,"type":"quantitative","axis":null},"text":{"value":"NBI"}}},
   {"data":{"values":[{}]},"mark":{"type":"text","font":"Liberation Serif","fontSize":19,"align":"left","baseline":"alphabetic"},"encoding":{"x":{"datum":0.20373,"type":"quantitative","axis":null},"y":{"datum":3.39,"type":"quantitative","axis":null},"text":{"value":"= 2.0\u00a0 MW"}}}
  ]},
  {"width":392,"height":86,"data":{"name":"L26"},"resolve":{"axis":{"x":"independent","y":"independent"}},"layer":[
   {"mark":{"type":"line","color":"black","strokeWidth":1.2,"clip":true},"encoding":{"x":{"field":"t","type":"quantitative","scale":{"domain":[0.1711,0.214],"nice":false,"zero":false},"axis":{"values":[0.172,0.173,0.174,0.175,0.176,0.177,0.178,0.179,0.18,0.181,0.182,0.183,0.184,0.185,0.186,0.187,0.188,0.189,0.19,0.191,0.192,0.193,0.194,0.195,0.196,0.197,0.198,0.199,0.2,0.201,0.202,0.203,0.204,0.205,0.206,0.207,0.208,0.209,0.21,0.211,0.212,0.213,0.214],"labelExpr":"abs(datum.value*100-round(datum.value*100))<0.001 ? format(datum.value,'.2f') : ''","labelPadding":12,"title":"Time (s)","titleFont":"Liberation Serif","titleFontSize":17,"titleFontWeight":"normal","titlePadding":10,"tickSize":{"condition":{"test":"abs(datum.value*100-round(datum.value*100))<0.001","value":-8},"value":-4}}},"y":{"field":"v","type":"quantitative","scale":{"domain":[-0.3,4.9],"nice":false,"zero":false},"axis":{"values":[0,0.5,1,1.5,2,2.5,3,3.5,4,4.5],"labelExpr":"datum.value % 2 == 0 ? format(datum.value,'.1f') : ''","tickSize":{"condition":{"test":"datum.value % 2 == 0","value":-7},"value":-4},"labelPadding":20,"title":null}}}},
   {"mark":{"type":"line","opacity":0},"encoding":{"x":{"field":"t","type":"quantitative","axis":null},"y":{"field":"v","type":"quantitative","axis":{"orient":"right","values":[0,0.5,1,1.5,2,2.5,3,3.5,4,4.5],"labels":false,"title":null,"tickSize":{"condition":{"test":"datum.value % 2 == 0","value":-7},"value":-4}}}}},
   {"data":{"values":[{}]},"mark":{"type":"rect","fill":"white","stroke":"black","strokeWidth":1},"encoding":{"x":{"datum":0.1988,"type":"quantitative","axis":null},"x2":{"datum":0.2136},"y":{"datum":4.66,"type":"quantitative","axis":null},"y2":{"datum":2.43}}},
   {"data":{"values":[{}]},"mark":{"type":"text","font":"Liberation Serif","fontSize":22,"align":"left","baseline":"alphabetic"},"encoding":{"x":{"datum":0.19924,"type":"quantitative","axis":null},"y":{"datum":3.03,"type":"quantitative","axis":null},"text":{"value":"P"}}},
   {"data":{"values":[{}]},"mark":{"type":"text","font":"Liberation Serif","fontSize":16,"align":"left","baseline":"alphabetic"},"encoding":{"x":{"datum":0.20055,"type":"quantitative","axis":null},"y":{"datum":2.62,"type":"quantitative","axis":null},"text":{"value":"NBI"}}},
   {"data":{"values":[{}]},"mark":{"type":"text","font":"Liberation Serif","fontSize":19,"align":"left","baseline":"alphabetic"},"encoding":{"x":{"datum":0.20373,"type":"quantitative","axis":null},"y":{"datum":3.39,"type":"quantitative","axis":null},"text":{"value":"= 2.6\u00a0 MW"}}}
  ]}
 ]},
{"title":{"text":"Outboard upper target","anchor":"start","frame":"group","offset":25,"dx":99,"fontSize":16,"font":"Liberation Serif","fontWeight":"normal"},
 "spacing":0,"bounds":"flush",
 "vconcat":[
  {"width":392,"height":86,"data":{"name":"R0"},"resolve":{"axis":{"x":"independent","y":"independent"}},"layer":[
   {"mark":{"type":"line","color":"black","strokeWidth":1.2,"clip":true},"encoding":{"x":{"field":"t","type":"quantitative","scale":{"domain":[0.1711,0.214],"nice":false,"zero":false},"axis":{"values":[0.172,0.173,0.174,0.175,0.176,0.177,0.178,0.179,0.18,0.181,0.182,0.183,0.184,0.185,0.186,0.187,0.188,0.189,0.19,0.191,0.192,0.193,0.194,0.195,0.196,0.197,0.198,0.199,0.2,0.201,0.202,0.203,0.204,0.205,0.206,0.207,0.208,0.209,0.21,0.211,0.212,0.213,0.214],"labels":false,"title":null,"tickSize":{"condition":{"test":"abs(datum.value*100-round(datum.value*100))<0.001","value":-8},"value":-4}}},"y":{"field":"v","type":"quantitative","scale":{"domain":[-0.3,4.9],"nice":false,"zero":false},"axis":{"values":[0,0.5,1,1.5,2,2.5,3,3.5,4,4.5],"labelExpr":"datum.value % 2 == 0 ? format(datum.value,'.1f') : ''","tickSize":{"condition":{"test":"datum.value % 2 == 0","value":-7},"value":-4},"labelPadding":20,"title":null}}}},
   {"mark":{"type":"line","opacity":0},"encoding":{"x":{"field":"t","type":"quantitative","axis":{"orient":"top","values":[0.172,0.173,0.174,0.175,0.176,0.177,0.178,0.179,0.18,0.181,0.182,0.183,0.184,0.185,0.186,0.187,0.188,0.189,0.19,0.191,0.192,0.193,0.194,0.195,0.196,0.197,0.198,0.199,0.2,0.201,0.202,0.203,0.204,0.205,0.206,0.207,0.208,0.209,0.21,0.211,0.212,0.213,0.214],"labels":false,"title":null,"tickSize":{"condition":{"test":"abs(datum.value*100-round(datum.value*100))<0.001","value":-8},"value":-4}}},"y":{"field":"v","type":"quantitative","axis":{"orient":"right","values":[0,0.5,1,1.5,2,2.5,3,3.5,4,4.5],"labels":false,"title":null,"tickSize":{"condition":{"test":"datum.value % 2 == 0","value":-7},"value":-4}}}}},
   {"data":{"values":[{}]},"mark":{"type":"rect","fill":"white","stroke":"black","strokeWidth":1},"encoding":{"x":{"datum":0.1988,"type":"quantitative","axis":null},"x2":{"datum":0.2136},"y":{"datum":4.66,"type":"quantitative","axis":null},"y2":{"datum":2.43}}},
   {"data":{"values":[{}]},"mark":{"type":"text","font":"Liberation Serif","fontSize":22,"align":"left","baseline":"alphabetic"},"encoding":{"x":{"datum":0.19924,"type":"quantitative","axis":null},"y":{"datum":3.03,"type":"quantitative","axis":null},"text":{"value":"P"}}},
   {"data":{"values":[{}]},"mark":{"type":"text","font":"Liberation Serif","fontSize":16,"align":"left","baseline":"alphabetic"},"encoding":{"x":{"datum":0.20055,"type":"quantitative","axis":null},"y":{"datum":2.62,"type":"quantitative","axis":null},"text":{"value":"NBI"}}},
   {"data":{"values":[{}]},"mark":{"type":"text","font":"Liberation Serif","fontSize":19,"align":"left","baseline":"alphabetic"},"encoding":{"x":{"datum":0.20373,"type":"quantitative","axis":null},"y":{"datum":3.39,"type":"quantitative","axis":null},"text":{"value":"= 0.0\u00a0 MW"}}}
  ]},
  {"width":392,"height":86,"data":{"name":"R06"},"resolve":{"axis":{"x":"independent","y":"independent"}},"layer":[
   {"mark":{"type":"line","color":"black","strokeWidth":1.2,"clip":true},"encoding":{"x":{"field":"t","type":"quantitative","scale":{"domain":[0.1711,0.214],"nice":false,"zero":false},"axis":{"values":[0.172,0.173,0.174,0.175,0.176,0.177,0.178,0.179,0.18,0.181,0.182,0.183,0.184,0.185,0.186,0.187,0.188,0.189,0.19,0.191,0.192,0.193,0.194,0.195,0.196,0.197,0.198,0.199,0.2,0.201,0.202,0.203,0.204,0.205,0.206,0.207,0.208,0.209,0.21,0.211,0.212,0.213,0.214],"labels":false,"title":null,"tickSize":{"condition":{"test":"abs(datum.value*100-round(datum.value*100))<0.001","value":-8},"value":-4}}},"y":{"field":"v","type":"quantitative","scale":{"domain":[-0.3,4.9],"nice":false,"zero":false},"axis":{"values":[0,0.5,1,1.5,2,2.5,3,3.5,4,4.5],"labelExpr":"datum.value % 2 == 0 ? format(datum.value,'.1f') : ''","tickSize":{"condition":{"test":"datum.value % 2 == 0","value":-7},"value":-4},"labelPadding":20,"title":null}}}},
   {"mark":{"type":"line","opacity":0},"encoding":{"x":{"field":"t","type":"quantitative","axis":null},"y":{"field":"v","type":"quantitative","axis":{"orient":"right","values":[0,0.5,1,1.5,2,2.5,3,3.5,4,4.5],"labels":false,"title":null,"tickSize":{"condition":{"test":"datum.value % 2 == 0","value":-7},"value":-4}}}}},
   {"data":{"values":[{}]},"mark":{"type":"rect","fill":"white","stroke":"black","strokeWidth":1},"encoding":{"x":{"datum":0.1988,"type":"quantitative","axis":null},"x2":{"datum":0.2136},"y":{"datum":4.66,"type":"quantitative","axis":null},"y2":{"datum":2.43}}},
   {"data":{"values":[{}]},"mark":{"type":"text","font":"Liberation Serif","fontSize":22,"align":"left","baseline":"alphabetic"},"encoding":{"x":{"datum":0.19924,"type":"quantitative","axis":null},"y":{"datum":3.03,"type":"quantitative","axis":null},"text":{"value":"P"}}},
   {"data":{"values":[{}]},"mark":{"type":"text","font":"Liberation Serif","fontSize":16,"align":"left","baseline":"alphabetic"},"encoding":{"x":{"datum":0.20055,"type":"quantitative","axis":null},"y":{"datum":2.62,"type":"quantitative","axis":null},"text":{"value":"NBI"}}},
   {"data":{"values":[{}]},"mark":{"type":"text","font":"Liberation Serif","fontSize":19,"align":"left","baseline":"alphabetic"},"encoding":{"x":{"datum":0.20373,"type":"quantitative","axis":null},"y":{"datum":3.39,"type":"quantitative","axis":null},"text":{"value":"= 0.6\u00a0 MW"}}}
  ]},
  {"width":392,"height":86,"data":{"name":"R10"},"resolve":{"axis":{"x":"independent","y":"independent"}},"layer":[
   {"mark":{"type":"line","color":"black","strokeWidth":1.2,"clip":true},"encoding":{"x":{"field":"t","type":"quantitative","scale":{"domain":[0.1711,0.214],"nice":false,"zero":false},"axis":{"values":[0.172,0.173,0.174,0.175,0.176,0.177,0.178,0.179,0.18,0.181,0.182,0.183,0.184,0.185,0.186,0.187,0.188,0.189,0.19,0.191,0.192,0.193,0.194,0.195,0.196,0.197,0.198,0.199,0.2,0.201,0.202,0.203,0.204,0.205,0.206,0.207,0.208,0.209,0.21,0.211,0.212,0.213,0.214],"labels":false,"title":null,"tickSize":{"condition":{"test":"abs(datum.value*100-round(datum.value*100))<0.001","value":-8},"value":-4}}},"y":{"field":"v","type":"quantitative","scale":{"domain":[-0.3,4.9],"nice":false,"zero":false},"axis":{"values":[0,0.5,1,1.5,2,2.5,3,3.5,4,4.5],"labelExpr":"datum.value % 2 == 0 ? format(datum.value,'.1f') : ''","tickSize":{"condition":{"test":"datum.value % 2 == 0","value":-7},"value":-4},"labelPadding":20,"title":"Dα (arb)","titleFont":"Liberation Serif","titleFontSize":23,"titleFontWeight":"normal","titleY":86,"titlePadding":16}}}},
   {"mark":{"type":"line","opacity":0},"encoding":{"x":{"field":"t","type":"quantitative","axis":null},"y":{"field":"v","type":"quantitative","axis":{"orient":"right","values":[0,0.5,1,1.5,2,2.5,3,3.5,4,4.5],"labels":false,"title":null,"tickSize":{"condition":{"test":"datum.value % 2 == 0","value":-7},"value":-4}}}}},
   {"data":{"values":[{}]},"mark":{"type":"rect","fill":"white","stroke":"black","strokeWidth":1},"encoding":{"x":{"datum":0.1988,"type":"quantitative","axis":null},"x2":{"datum":0.2136},"y":{"datum":4.66,"type":"quantitative","axis":null},"y2":{"datum":2.43}}},
   {"data":{"values":[{}]},"mark":{"type":"text","font":"Liberation Serif","fontSize":22,"align":"left","baseline":"alphabetic"},"encoding":{"x":{"datum":0.19924,"type":"quantitative","axis":null},"y":{"datum":3.03,"type":"quantitative","axis":null},"text":{"value":"P"}}},
   {"data":{"values":[{}]},"mark":{"type":"text","font":"Liberation Serif","fontSize":16,"align":"left","baseline":"alphabetic"},"encoding":{"x":{"datum":0.20055,"type":"quantitative","axis":null},"y":{"datum":2.62,"type":"quantitative","axis":null},"text":{"value":"NBI"}}},
   {"data":{"values":[{}]},"mark":{"type":"text","font":"Liberation Serif","fontSize":19,"align":"left","baseline":"alphabetic"},"encoding":{"x":{"datum":0.20373,"type":"quantitative","axis":null},"y":{"datum":3.39,"type":"quantitative","axis":null},"text":{"value":"= 1.0\u00a0 MW"}}}
  ]},
  {"width":392,"height":86,"data":{"name":"R14"},"resolve":{"axis":{"x":"independent","y":"independent"}},"layer":[
   {"mark":{"type":"line","color":"black","strokeWidth":1.2,"clip":true},"encoding":{"x":{"field":"t","type":"quantitative","scale":{"domain":[0.1711,0.214],"nice":false,"zero":false},"axis":{"values":[0.172,0.173,0.174,0.175,0.176,0.177,0.178,0.179,0.18,0.181,0.182,0.183,0.184,0.185,0.186,0.187,0.188,0.189,0.19,0.191,0.192,0.193,0.194,0.195,0.196,0.197,0.198,0.199,0.2,0.201,0.202,0.203,0.204,0.205,0.206,0.207,0.208,0.209,0.21,0.211,0.212,0.213,0.214],"labels":false,"title":null,"tickSize":{"condition":{"test":"abs(datum.value*100-round(datum.value*100))<0.001","value":-8},"value":-4}}},"y":{"field":"v","type":"quantitative","scale":{"domain":[-0.3,4.9],"nice":false,"zero":false},"axis":{"values":[0,0.5,1,1.5,2,2.5,3,3.5,4,4.5],"labelExpr":"datum.value % 2 == 0 ? format(datum.value,'.1f') : ''","tickSize":{"condition":{"test":"datum.value % 2 == 0","value":-7},"value":-4},"labelPadding":20,"title":null}}}},
   {"mark":{"type":"line","opacity":0},"encoding":{"x":{"field":"t","type":"quantitative","axis":null},"y":{"field":"v","type":"quantitative","axis":{"orient":"right","values":[0,0.5,1,1.5,2,2.5,3,3.5,4,4.5],"labels":false,"title":null,"tickSize":{"condition":{"test":"datum.value % 2 == 0","value":-7},"value":-4}}}}},
   {"data":{"values":[{}]},"mark":{"type":"rect","fill":"white","stroke":"black","strokeWidth":1},"encoding":{"x":{"datum":0.1988,"type":"quantitative","axis":null},"x2":{"datum":0.2136},"y":{"datum":4.66,"type":"quantitative","axis":null},"y2":{"datum":2.43}}},
   {"data":{"values":[{}]},"mark":{"type":"text","font":"Liberation Serif","fontSize":22,"align":"left","baseline":"alphabetic"},"encoding":{"x":{"datum":0.19924,"type":"quantitative","axis":null},"y":{"datum":3.03,"type":"quantitative","axis":null},"text":{"value":"P"}}},
   {"data":{"values":[{}]},"mark":{"type":"text","font":"Liberation Serif","fontSize":16,"align":"left","baseline":"alphabetic"},"encoding":{"x":{"datum":0.20055,"type":"quantitative","axis":null},"y":{"datum":2.62,"type":"quantitative","axis":null},"text":{"value":"NBI"}}},
   {"data":{"values":[{}]},"mark":{"type":"text","font":"Liberation Serif","fontSize":19,"align":"left","baseline":"alphabetic"},"encoding":{"x":{"datum":0.20373,"type":"quantitative","axis":null},"y":{"datum":3.39,"type":"quantitative","axis":null},"text":{"value":"= 1.4\u00a0 MW"}}}
  ]},
  {"width":392,"height":86,"data":{"name":"R20"},"resolve":{"axis":{"x":"independent","y":"independent"}},"layer":[
   {"mark":{"type":"line","color":"black","strokeWidth":1.2,"clip":true},"encoding":{"x":{"field":"t","type":"quantitative","scale":{"domain":[0.1711,0.214],"nice":false,"zero":false},"axis":{"values":[0.172,0.173,0.174,0.175,0.176,0.177,0.178,0.179,0.18,0.181,0.182,0.183,0.184,0.185,0.186,0.187,0.188,0.189,0.19,0.191,0.192,0.193,0.194,0.195,0.196,0.197,0.198,0.199,0.2,0.201,0.202,0.203,0.204,0.205,0.206,0.207,0.208,0.209,0.21,0.211,0.212,0.213,0.214],"labels":false,"title":null,"tickSize":{"condition":{"test":"abs(datum.value*100-round(datum.value*100))<0.001","value":-8},"value":-4}}},"y":{"field":"v","type":"quantitative","scale":{"domain":[-0.3,4.9],"nice":false,"zero":false},"axis":{"values":[0,0.5,1,1.5,2,2.5,3,3.5,4,4.5],"labelExpr":"datum.value % 2 == 0 ? format(datum.value,'.1f') : ''","tickSize":{"condition":{"test":"datum.value % 2 == 0","value":-7},"value":-4},"labelPadding":20,"title":null}}}},
   {"mark":{"type":"line","opacity":0},"encoding":{"x":{"field":"t","type":"quantitative","axis":null},"y":{"field":"v","type":"quantitative","axis":{"orient":"right","values":[0,0.5,1,1.5,2,2.5,3,3.5,4,4.5],"labels":false,"title":null,"tickSize":{"condition":{"test":"datum.value % 2 == 0","value":-7},"value":-4}}}}},
   {"data":{"values":[{}]},"mark":{"type":"rect","fill":"white","stroke":"black","strokeWidth":1},"encoding":{"x":{"datum":0.1988,"type":"quantitative","axis":null},"x2":{"datum":0.2136},"y":{"datum":4.66,"type":"quantitative","axis":null},"y2":{"datum":2.43}}},
   {"data":{"values":[{}]},"mark":{"type":"text","font":"Liberation Serif","fontSize":22,"align":"left","baseline":"alphabetic"},"encoding":{"x":{"datum":0.19924,"type":"quantitative","axis":null},"y":{"datum":3.03,"type":"quantitative","axis":null},"text":{"value":"P"}}},
   {"data":{"values":[{}]},"mark":{"type":"text","font":"Liberation Serif","fontSize":16,"align":"left","baseline":"alphabetic"},"encoding":{"x":{"datum":0.20055,"type":"quantitative","axis":null},"y":{"datum":2.62,"type":"quantitative","axis":null},"text":{"value":"NBI"}}},
   {"data":{"values":[{}]},"mark":{"type":"text","font":"Liberation Serif","fontSize":19,"align":"left","baseline":"alphabetic"},"encoding":{"x":{"datum":0.20373,"type":"quantitative","axis":null},"y":{"datum":3.39,"type":"quantitative","axis":null},"text":{"value":"= 2.0\u00a0 MW"}}}
  ]},
  {"width":392,"height":86,"data":{"name":"R26"},"resolve":{"axis":{"x":"independent","y":"independent"}},"layer":[
   {"mark":{"type":"line","color":"black","strokeWidth":1.2,"clip":true},"encoding":{"x":{"field":"t","type":"quantitative","scale":{"domain":[0.1711,0.214],"nice":false,"zero":false},"axis":{"values":[0.172,0.173,0.174,0.175,0.176,0.177,0.178,0.179,0.18,0.181,0.182,0.183,0.184,0.185,0.186,0.187,0.188,0.189,0.19,0.191,0.192,0.193,0.194,0.195,0.196,0.197,0.198,0.199,0.2,0.201,0.202,0.203,0.204,0.205,0.206,0.207,0.208,0.209,0.21,0.211,0.212,0.213,0.214],"labelExpr":"abs(datum.value*100-round(datum.value*100))<0.001 ? format(datum.value,'.2f') : ''","labelPadding":12,"title":"Time (s)","titleFont":"Liberation Serif","titleFontSize":17,"titleFontWeight":"normal","titlePadding":10,"titleX":180,"tickSize":{"condition":{"test":"abs(datum.value*100-round(datum.value*100))<0.001","value":-8},"value":-4}}},"y":{"field":"v","type":"quantitative","scale":{"domain":[-0.3,4.9],"nice":false,"zero":false},"axis":{"values":[0,0.5,1,1.5,2,2.5,3,3.5,4,4.5],"labelExpr":"datum.value % 2 == 0 ? format(datum.value,'.1f') : ''","tickSize":{"condition":{"test":"datum.value % 2 == 0","value":-7},"value":-4},"labelPadding":20,"title":null}}}},
   {"mark":{"type":"line","opacity":0},"encoding":{"x":{"field":"t","type":"quantitative","axis":null},"y":{"field":"v","type":"quantitative","axis":{"orient":"right","values":[0,0.5,1,1.5,2,2.5,3,3.5,4,4.5],"labels":false,"title":null,"tickSize":{"condition":{"test":"datum.value % 2 == 0","value":-7},"value":-4}}}}},
   {"data":{"values":[{}]},"mark":{"type":"rect","fill":"white","stroke":"black","strokeWidth":1},"encoding":{"x":{"datum":0.1988,"type":"quantitative","axis":null},"x2":{"datum":0.2136},"y":{"datum":4.66,"type":"quantitative","axis":null},"y2":{"datum":2.43}}},
   {"data":{"values":[{}]},"mark":{"type":"text","font":"Liberation Serif","fontSize":22,"align":"left","baseline":"alphabetic"},"encoding":{"x":{"datum":0.19924,"type":"quantitative","axis":null},"y":{"datum":3.03,"type":"quantitative","axis":null},"text":{"value":"P"}}},
   {"data":{"values":[{}]},"mark":{"type":"text","font":"Liberation Serif","fontSize":16,"align":"left","baseline":"alphabetic"},"encoding":{"x":{"datum":0.20055,"type":"quantitative","axis":null},"y":{"datum":2.62,"type":"quantitative","axis":null},"text":{"value":"NBI"}}},
   {"data":{"values":[{}]},"mark":{"type":"text","font":"Liberation Serif","fontSize":19,"align":"left","baseline":"alphabetic"},"encoding":{"x":{"datum":0.20373,"type":"quantitative","axis":null},"y":{"datum":3.39,"type":"quantitative","axis":null},"text":{"value":"= 2.6\u00a0 MW"}}}
  ]}
 ]}
],
"spacing":41
}
